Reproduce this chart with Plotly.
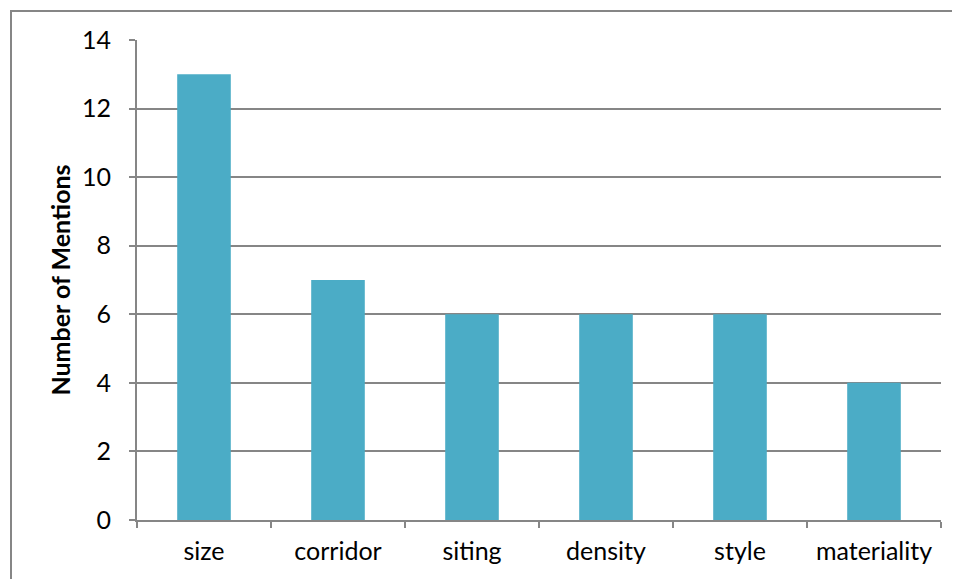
import plotly.graph_objects as go

categories = ["size", "corridor", "siting", "density", "style", "materiality"]
mentions = [13, 7, 6, 6, 6, 4]
y_ticks = [0, 2, 4, 6, 8, 10, 12, 14]

# page body has an 8px margin; work in window pixels, then shift
OFF = 8
W, H = 960 - OFF, 579 - OFF
L, R, T, B = 137 - OFF, 941 - OFF, 40 - OFF, 520 - OFF

fig = go.Figure(go.Bar(
    x=categories, y=mentions,
    marker=dict(color="#4BACC6", line=dict(width=0)),
    width=0.4,
))

fig.update_layout(
    width=W, height=H,
    margin=dict(l=L, r=W - R, t=T, b=H - B, pad=0),
    paper_bgcolor="white", plot_bgcolor="white",
    font=dict(family="Lato, Open Sans, sans-serif", size=25, color="black"),
    showlegend=False,
    bargap=0.6,
)
fig.update_xaxes(
    type="category",
    showline=True, linecolor="#868686", linewidth=2,
    ticks="outside", tickson="boundaries", ticklen=6, tickcolor="#868686", tickwidth=2,
    showgrid=False, ticklabelstandoff=8,
    tickfont=dict(size=25),
    mirror=False,
)
fig.update_yaxes(
    range=[0, 14], tickvals=y_ticks,
    showline=True, linecolor="#868686", linewidth=2,
    ticks="outside", ticklen=6, tickcolor="#868686", tickwidth=2,
    showgrid=True, gridcolor="#868686", gridwidth=1.5,
    zeroline=False, ticklabelstandoff=13,
    tickfont=dict(size=25),
    title=dict(text="<b>Number of Mentions</b>", font=dict(size=25), standoff=4),
)

pw, ph = R - L, B - T
fig.add_shape(
    type="rect", xref="paper", yref="paper",
    x0=(11 - OFF - L) / pw, x1=(W + 20 - L) / pw,
    y0=-(H + 20 - B) / ph, y1=1 + (T - (11 - OFF)) / ph,
    line=dict(color="#868686", width=2), layer="below",
)

fig.write_html("out.html")
